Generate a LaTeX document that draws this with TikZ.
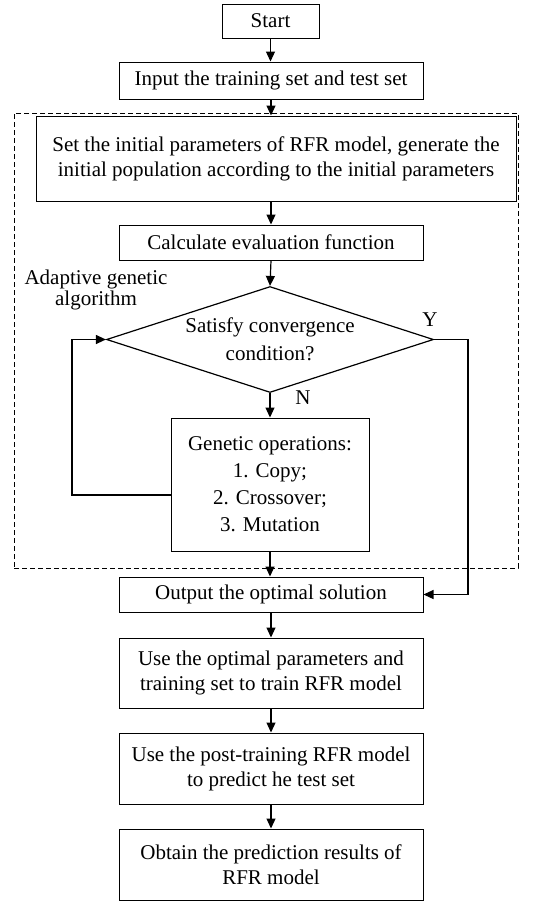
\documentclass[tikz,border=0pt]{standalone}
\usepackage{fontspec}
\setmainfont{Liberation Serif}
\usetikzlibrary{shapes.geometric,arrows.meta}
\begin{document}
\begin{tikzpicture}[x=1pt,y=-1pt,
  txt/.style={font=\fontsize{21}{25}\selectfont,align=center,inner sep=0pt},
  box/.style={txt,draw,line width=1pt,minimum width=304pt},
  arr/.style={-{Triangle[length=10pt,width=9pt]},line width=1.2pt},
  ln/.style={line width=1.2pt}]
\useasboundingbox (0,0) rectangle (540,903);
\node[draw,dashed,dash pattern=on 5pt off 3pt,line width=0.8pt,minimum width=504pt,minimum height=455pt,inner sep=0pt] (frame) at (266,340.5) {};
\node[box,minimum width=97pt,minimum height=34pt] (start) at (270.5,21) {Start};
\node[box,minimum height=37pt] (input) at (271,80.5) {Input the training set and test set};
\node[box,minimum width=480pt,minimum height=85pt] (init) at (276,158.5) {Set the initial parameters of RFR model, generate the\\initial population according to the initial parameters};
\node[box,minimum height=35pt] (calc) at (271,242.5) {Calculate evaluation function};
\node[draw,line width=1.2pt,diamond,inner sep=0pt,minimum width=327pt,minimum height=106pt] (dia) at (270,339.5) {};
\node[txt,font=\fontsize{21}{28}\selectfont] (diatext) at (dia.center) {Satisfy convergence\\condition?};
\node[box,minimum width=198pt,minimum height=133pt,font=\fontsize{21}{27}\selectfont] (gen) at (270,484.5) {Genetic operations:\\1. Copy;\\2. Crossover;\\3. Mutation};
\node[box,minimum height=35pt] (out) at (271,594.5) {Output the optimal solution};
\node[box,minimum height=70pt] (train) at (271,673) {Use the optimal parameters and\\training set to train RFR model};
\node[box,minimum height=71pt] (pred) at (271,768.5) {Use the post-training RFR model\\to predict he test set};
\node[box,minimum height=71pt] (obt) at (271,864.5) {Obtain the prediction results of\\RFR model};
\node[txt,font=\fontsize{21}{20.7}\selectfont] (lab) at (96,290) {Adaptive genetic\\algorithm};
\node[txt] (ylab) at (430,320) {Y};
\node[txt] (nlab) at (303,398) {N};
\coordinate (lp) at (72,495);
\coordinate (yc) at (468,339.5);
\draw[arr] (start.south) -- (start.south |- input.north);
\draw[arr] (input.south) -- (input.south |- init.north);
\draw[arr] (calc.north |- init.south) -- (calc.north);
\draw[arr] (calc.south) -- (dia.north);
\draw[arr] (dia.south) -- (gen.north);
\draw[arr] (gen.west |- lp) -- (lp) -- (lp |- dia.west) -- (dia.west);
\draw[arr] (dia.east) -- (yc) -- (yc |- out.east) -- (out.east);
\draw[arr] (gen.south) -- (gen.south |- out.north);
\draw[arr] (out.south) -- (out.south |- train.north);
\draw[arr] (train.south) -- (pred.north);
\draw[arr] (pred.south) -- (obt.north);
\end{tikzpicture}
\end{document}
